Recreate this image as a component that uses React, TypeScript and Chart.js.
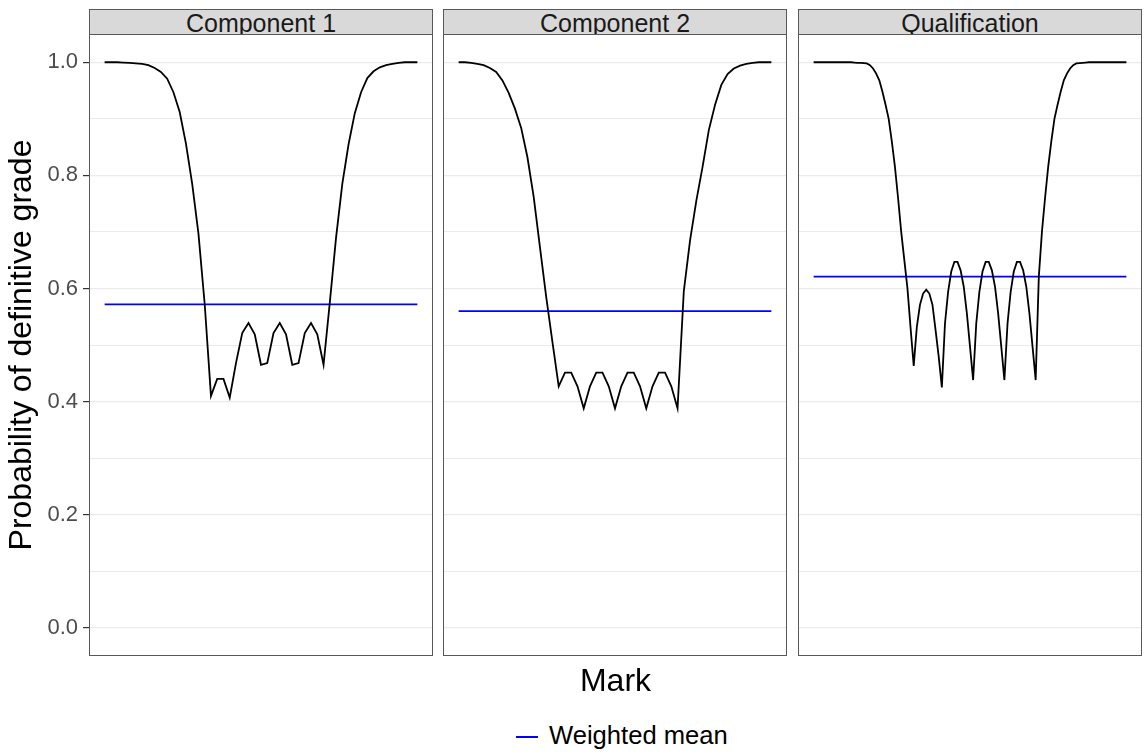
import React, { useEffect, useRef } from "react";
import { Chart, registerables } from "chart.js";

Chart.register(...registerables);

// ---------- data ----------
const panelTitles = ["Component 1", "Component 2", "Qualification"];

// Components: marks on a percentage scale, every 2 %
const marksComponent = Array.from({ length: 51 }, (_, i) => i * 2);
// Qualification: every 1 %
const marksQualification = Array.from({ length: 101 }, (_, i) => i);

const probComponent1 = [
  1.0, 1.0, 1.0, 0.9995, 0.999, 0.998, 0.997, 0.995, 0.99, 0.983,
  0.971, 0.947, 0.912, 0.856, 0.785, 0.697, 0.572, 0.41, 0.44, 0.44,
  0.407, 0.468, 0.521, 0.539, 0.519, 0.465, 0.468, 0.521, 0.539, 0.519,
  0.465, 0.468, 0.521, 0.539, 0.519, 0.465, 0.575, 0.69, 0.785, 0.855,
  0.91, 0.947, 0.972, 0.984, 0.991, 0.995, 0.997, 0.999, 1.0, 1.0, 1.0,
];

const probComponent2 = [
  1.0, 1.0, 0.999, 0.997, 0.995, 0.99, 0.983, 0.968, 0.946, 0.918,
  0.884, 0.832, 0.762, 0.673, 0.585, 0.505, 0.427, 0.451, 0.451, 0.427,
  0.388, 0.427, 0.451, 0.451, 0.427, 0.388, 0.427, 0.451, 0.451, 0.427,
  0.388, 0.427, 0.451, 0.451, 0.427, 0.388, 0.595, 0.685, 0.755, 0.815,
  0.88, 0.925, 0.96, 0.979, 0.989, 0.994, 0.997, 0.999, 1.0, 1.0, 1.0,
];

const probQualification = [
  1.0, 1.0, 1.0, 1.0, 1.0, 1.0, 1.0, 1.0, 1.0, 1.0,
  1.0, 1.0, 1.0, 0.9995, 0.999, 0.999, 0.9985, 0.998, 0.995, 0.989,
  0.98, 0.968, 0.948, 0.925, 0.9, 0.86, 0.815, 0.76, 0.7, 0.65,
  0.6, 0.53, 0.463, 0.532, 0.571, 0.591, 0.598, 0.591, 0.571, 0.526,
  0.479, 0.425, 0.538, 0.594, 0.63, 0.647, 0.647, 0.632, 0.603, 0.556,
  0.497, 0.438, 0.538, 0.594, 0.63, 0.647, 0.647, 0.632, 0.603, 0.556,
  0.497, 0.438, 0.538, 0.594, 0.63, 0.647, 0.647, 0.632, 0.603, 0.556,
  0.497, 0.438, 0.62, 0.7, 0.76, 0.815, 0.86, 0.9, 0.925, 0.948,
  0.968, 0.98, 0.989, 0.995, 0.998, 0.9985, 0.999, 0.9995, 1.0, 1.0,
  1.0, 1.0, 1.0, 1.0, 1.0, 1.0, 1.0, 1.0, 1.0, 1.0,
  1.0,
];

const weightedMeans = [0.572, 0.56, 0.621];

const yTickValues = [0, 0.1, 0.2, 0.3, 0.4, 0.5, 0.6, 0.7, 0.8, 0.9, 1.0];
const yMajorLabels = ["0.0", "0.2", "0.4", "0.6", "0.8", "1.0"];

const yAxisTitle = "Probability of definitive grade";
const xAxisTitle = "Mark";
const legendLabel = "Weighted mean";

// ---------- layout ----------
const FONT = "'Liberation Sans', Arial, Helvetica, sans-serif";
const PANEL_TOP = 34;
const PANEL_BOTTOM = 656;
const PANEL_LEFTS = [89, 443, 798];
const PANEL_WIDTH = 344;
const Y_AXIS_WIDTH = 89;
const PAD = 10;
const BORDER_COLOR = "#595959";
const LINE_WIDTH = 1.8;

const isMajor = (v: number) => Math.round(v * 10) % 2 === 0;

const panelBorder = {
  id: "panelBorder",
  afterDatasetsDraw(chart: any) {
    const { ctx, chartArea } = chart;
    ctx.save();
    ctx.strokeStyle = BORDER_COLOR;
    ctx.lineWidth = 1;
    ctx.strokeRect(
      chartArea.left + 0.5,
      chartArea.top + 0.5,
      chartArea.right - chartArea.left - 1,
      chartArea.bottom - chartArea.top - 1
    );
    ctx.restore();
  },
};

type PanelProps = {
  index: number;
  marks: number[];
  values: number[];
  mean: number;
};

function Panel({ index, marks, values, mean }: PanelProps) {
  const ref = useRef<HTMLCanvasElement>(null);
  const withAxis = index === 0;
  const canvasLeft = withAxis ? PANEL_LEFTS[0] - Y_AXIS_WIDTH : PANEL_LEFTS[index];
  const canvasWidth = withAxis ? Y_AXIS_WIDTH + PANEL_WIDTH : PANEL_WIDTH;
  const canvasTop = PANEL_TOP - PAD;
  const canvasHeight = PANEL_BOTTOM - PANEL_TOP + 2 * PAD;

  useEffect(() => {
    if (!ref.current) return;
    const chart = new Chart(ref.current, {
      type: "line",
      data: {
        datasets: [
          {
            label: "Probability",
            data: marks.map((m, i) => ({ x: m, y: values[i] })),
            borderColor: "#000000",
            borderWidth: LINE_WIDTH,
            pointRadius: 0,
            tension: 0,
            fill: false,
          },
          {
            label: legendLabel,
            data: [
              { x: marks[0], y: mean },
              { x: marks[marks.length - 1], y: mean },
            ],
            borderColor: "#0000FF",
            borderWidth: LINE_WIDTH,
            pointRadius: 0,
            fill: false,
          },
        ],
      },
      options: {
        animation: false,
        responsive: false,
        maintainAspectRatio: false,
        devicePixelRatio: 1,
        layout: { padding: { top: PAD, bottom: PAD, left: 0, right: 0 } },
        plugins: {
          legend: { display: false },
          tooltip: { enabled: false },
        },
        scales: {
          x: { type: "linear", min: -5, max: 105, display: false },
          y: {
            type: "linear",
            min: -0.05,
            max: 1.05,
            afterBuildTicks: (scale: any) => {
              scale.ticks = yTickValues.map((v) => ({ value: v }));
            },
            afterFit: (scale: any) => {
              scale.width = withAxis ? Y_AXIS_WIDTH : 0;
              scale.paddingTop = 0;
              scale.paddingBottom = 0;
              scale.paddingLeft = 0;
              scale.paddingRight = 0;
            },
            border: { display: false },
            grid: {
              color: "#EBEBEB",
              lineWidth: (ctx: any) => (ctx.tick && isMajor(ctx.tick.value) ? 1.2 : 1),
              drawTicks: withAxis,
              tickLength: 6,
              tickWidth: 1.2,
              tickColor: (ctx: any) =>
                ctx.tick && isMajor(ctx.tick.value) ? "#333333" : "rgba(0,0,0,0)",
            },
            ticks: {
              display: withAxis,
              autoSkip: false,
              padding: 5,
              color: "#4D4D4D",
              font: { family: FONT, size: 22 },
              callback: (v: any) => {
                const n = Number(v);
                if (!isMajor(n)) return "";
                const s = n.toFixed(1);
                return yMajorLabels.includes(s) ? s : "";
              },
            },
            title: {
              display: withAxis,
              text: yAxisTitle,
              color: "#000000",
              font: { family: FONT, size: 32, lineHeight: 1.2 },
              padding: { top: 3, bottom: 0 },
            },
          },
        },
      },
      plugins: [panelBorder],
    });
    return () => chart.destroy();
  }, []);

  return (
    <>
      <canvas
        ref={ref}
        width={canvasWidth}
        height={canvasHeight}
        style={{
          position: "absolute",
          left: canvasLeft,
          top: canvasTop,
          width: canvasWidth,
          height: canvasHeight,
        }}
      />
      <div
        style={{
          position: "absolute",
          left: PANEL_LEFTS[index],
          top: 9,
          width: PANEL_WIDTH,
          height: 25,
          boxSizing: "border-box",
          background: "#D9D9D9",
          borderTop: `1px solid ${BORDER_COLOR}`,
          borderLeft: `1px solid ${BORDER_COLOR}`,
          borderRight: `1px solid ${BORDER_COLOR}`,
          textAlign: "center",
          fontFamily: FONT,
          fontSize: 25,
          lineHeight: "24px",
          paddingTop: 1,
          color: "#1A1A1A",
          overflow: "hidden",
          whiteSpace: "nowrap",
        }}
      >
        {panelTitles[index]}
      </div>
    </>
  );
}

export default function App() {
  const series = [probComponent1, probComponent2, probQualification];
  const marks = [marksComponent, marksComponent, marksQualification];
  return (
    <div
      style={{
        position: "absolute",
        left: 0,
        top: 0,
        width: 1144,
        height: 753,
        background: "#FFFFFF",
        overflow: "hidden",
      }}
    >
      {series.map((s, i) => (
        <Panel key={i} index={i} marks={marks[i]} values={s} mean={weightedMeans[i]} />
      ))}
      <div
        style={{
          position: "absolute",
          left: PANEL_LEFTS[0],
          width: PANEL_LEFTS[2] + PANEL_WIDTH - PANEL_LEFTS[0],
          top: 664,
          textAlign: "center",
          fontFamily: FONT,
          fontSize: 32,
          lineHeight: "32px",
          color: "#000000",
        }}
      >
        {xAxisTitle}
      </div>
      <div
        style={{
          position: "absolute",
          left: 516,
          top: 736,
          width: 22,
          height: 2,
          background: "#0000FF",
        }}
      />
      <div
        style={{
          position: "absolute",
          left: 549,
          top: 723,
          fontFamily: FONT,
          fontSize: 25.6,
          lineHeight: "25px",
          color: "#000000",
          whiteSpace: "nowrap",
        }}
      >
        {legendLabel}
      </div>
    </div>
  );
}
